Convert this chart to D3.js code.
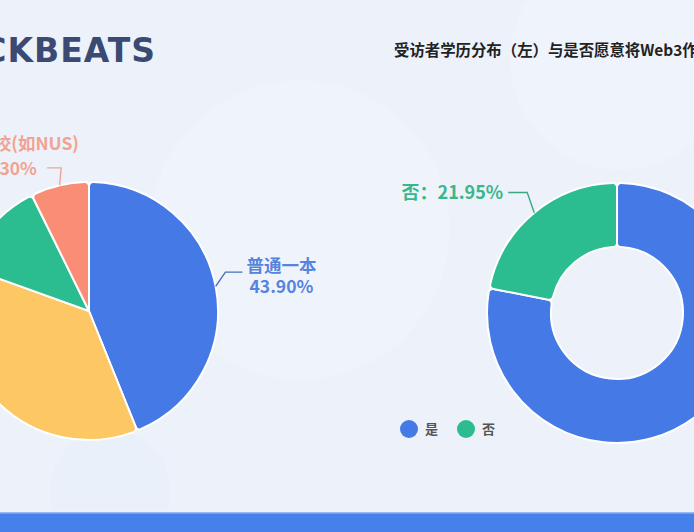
<!DOCTYPE html>
<html><head><meta charset="utf-8">
<script src="https://cdn.jsdelivr.net/npm/d3@7/dist/d3.min.js"></script>
<style>
html,body{margin:0;padding:0;background:#edf2fa;overflow:hidden}
svg{display:block}
</style></head>
<body>
<svg id="c" width="694" height="532"></svg>
<script>
// ---- data ----
const titleText = "受访者学历分布（左）与是否愿意将Web3作为职业（右）";
const logoText = "BLOCKBEATS";
const eduCategories = ["普通一本", "985/211", "其他", "海外名校(如NUS)"];
const eduValues = [43.90, 36.60, 12.20, 7.30];
const eduLabels = ["43.90%", "36.60%", "12.20%", "7.30%"];
const eduColors = ["#4479e6", "#fdc764", "#2bbd8f", "#f98d76"];
const eduTextColors = ["#5584df", "#f2b94f", "#3ab68b", "#f3a291"];
const careerCategories = ["是", "否"];
const careerValues = [78.05, 21.95];
const careerLabels = ["78.05%", "21.95%"];
const careerColors = ["#4479e6", "#2bbd8f"];
const careerTextColors = ["#5584df", "#3ab68b"];

const CJK = "'Noto Sans CJK SC','Noto Sans',sans-serif";
const svg = d3.select("#c");
const W = 694, H = 532;

// background
svg.append("rect").attr("width", W).attr("height", H).attr("fill", "#edf2fa");
const bg = svg.append("g").attr("opacity", 0.18);
bg.append("circle").attr("cx", 300).attr("cy", 230).attr("r", 150).attr("fill", "#f8fafe");
bg.append("circle").attr("cx", 620).attr("cy", 60).attr("r", 110).attr("fill", "#f8fafe");
bg.append("circle").attr("cx", 110).attr("cy", 490).attr("r", 60).attr("fill", "#e2e8f5");

// logo
const logo = svg.append("text").attr("y", 62)
  .style("font-family", "'DejaVu Sans', sans-serif")
  .attr("font-weight", 700).attr("font-size", 33).attr("letter-spacing", 1)
  .attr("fill", "#3a4a72").text(logoText);
const lw = logo.node().getComputedTextLength();
logo.attr("x", 156 - lw);

// title
svg.append("text").attr("x", 394).attr("y", 56).style("font-family", CJK)
  .attr("font-size", 15.4).attr("font-weight", 700)
  .attr("fill", "#222").text(titleText);

// ---- pies ----
function drawPie(cx, cy, rOuter, rInner, values, colors) {
  const pie = d3.pie().sort(null).value(d => d);
  const arcs = pie(values);
  const arc = d3.arc().innerRadius(rInner).outerRadius(rOuter).cornerRadius(4);
  const g = svg.append("g").attr("transform", `translate(${cx},${cy})`);
  g.selectAll("path").data(arcs).join("path")
    .attr("d", arc).attr("fill", (d, i) => colors[i])
    .attr("stroke", "#fff").attr("stroke-width", 2).attr("stroke-linejoin", "round");
  return arcs;
}

function leader(cx, cy, r, a, len1, elbowShift, len2, color) {
  const mid = (a.startAngle + a.endAngle) / 2;
  const sx = cx + r * Math.sin(mid), sy = cy - r * Math.cos(mid);
  const ex = cx + (r + len1) * Math.sin(mid) + elbowShift[0];
  const ey = cy - (r + len1) * Math.cos(mid) + elbowShift[1];
  const dir = Math.sin(mid) >= 0 ? 1 : -1;
  const fx = ex + dir * len2;
  svg.append("path").attr("d", d3.line()([[sx, sy], [ex, ey], [fx, ey]]))
    .attr("fill", "none").attr("stroke", color).attr("stroke-width", 1.4);
  return {x: fx, y: ey, dir};
}

function label(x, y, anchor, size, color) {
  return svg.append("text").attr("x", x).attr("y", y).attr("text-anchor", anchor)
    .style("font-family", CJK).attr("font-size", size).attr("font-weight", 700).attr("fill", color);
}

const pcx = 89, pcy = 311, pr = 129;
const eduArcs = drawPie(pcx, pcy, pr, 0, eduValues, eduColors);

// blue label
{
  const p = leader(pcx, pcy, pr, eduArcs[0], 12, [-2, -12], 17, "#4a6fb8");
  const tx = p.x + 39;
  const t = label(tx, p.y, "middle", 17.5, eduTextColors[0]);
  t.append("tspan").attr("x", tx).attr("y", p.y).text(eduCategories[0]);
  t.append("tspan").attr("x", tx).attr("y", p.y + 21).text(eduLabels[0]);
}
// salmon label
{
  const p = leader(pcx, pcy, pr, eduArcs[3], 20, [6, 2], 14, "#f0a697");
  const tx = p.x - 37;
  const t = label(tx, p.y, "middle", 17.5, eduTextColors[3]);
  t.append("tspan").attr("x", tx).attr("y", p.y - 18).text(eduCategories[3]);
  t.append("tspan").attr("x", tx).attr("y", p.y + 7).text(eduLabels[3]);
}
// yellow & green labels (outside the visible area on the left)
[1, 2].forEach(i => {
  const p = leader(pcx, pcy, pr, eduArcs[i], 14, [0, 0], 16, eduColors[i]);
  const t = label(p.x - 5, p.y, "end", 17.5, eduTextColors[i]);
  t.append("tspan").attr("x", p.x - 5).attr("y", p.y - 2).text(eduCategories[i]);
  t.append("tspan").attr("x", p.x - 5).attr("y", p.y + 19).text(eduLabels[i]);
});

// ---- right donut ----
const dcx = 617, dcy = 313, dr = 130, dri = 66;
const carArcs = drawPie(dcx, dcy, dr, dri, careerValues, careerColors);
{
  const p = leader(dcx, dcy, dr, carArcs[1], 8, [-2, -14], 19, "#3aa882");
  label(p.x - 5, p.y + 6.5, "end", 18, careerTextColors[1])
    .text(careerCategories[1] + "：" + careerLabels[1]);
}
{
  const p = leader(dcx, dcy, dr, carArcs[0], 12, [0, 0], 18, "#4a6fb8");
  label(p.x + 4, p.y + 6, "start", 18, careerTextColors[0])
    .text(careerCategories[0] + "：" + careerLabels[0]);
}

// legend
const lg = svg.append("g").attr("transform", "translate(409,429)");
careerCategories.forEach((c, i) => {
  const gx = i * 57;
  lg.append("circle").attr("cx", gx).attr("cy", 0).attr("r", 9).attr("fill", careerColors[i]);
  lg.append("text").attr("x", gx + 16).attr("y", 5).style("font-family", CJK)
    .attr("font-size", 13).attr("font-weight", 700).attr("fill", "#555").text(c);
});

// bottom bar
svg.append("rect").attr("x", 0).attr("y", 513).attr("width", W).attr("height", 19).attr("fill", "#4680ea");
svg.append("rect").attr("x", 0).attr("y", 512).attr("width", W).attr("height", 1.5).attr("fill", "#9ab9f2");
</script>
</body></html>
